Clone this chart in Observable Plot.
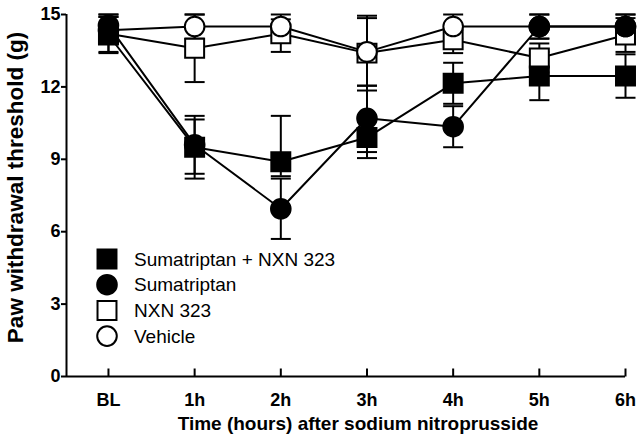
<!DOCTYPE html>
<html><head><meta charset="utf-8">
<script src="https://cdn.jsdelivr.net/npm/d3@7"></script>
<script src="https://cdn.jsdelivr.net/npm/@observablehq/plot@0.6"></script>
<style>
body{margin:0;background:#fff;}
#wrap{position:relative;width:640px;height:448px;font-family:"Liberation Sans",Arial,sans-serif;}
</style></head><body><div id="wrap"></div>
<script>
const times = ["BL","1h","2h","3h","4h","5h","6h"];
const yTicks = [0,3,6,9,12,15];
const seriesNames = ["Sumatriptan + NXN 323","Sumatriptan","NXN 323","Vehicle"];

const sumaNxnMean = [14.15, 9.5, 8.9, 9.9, 12.15, 12.45, 12.45];
const sumaNxnLow  = [13.4, 8.4, 8.3, 9.05, 11.3, 11.45, 11.55];
const sumaNxnHigh = [14.9, 10.65, 10.8, 10.75, 13.0, 13.45, 13.35];

const sumaMean = [14.55, 9.6, 6.95, 10.7, 10.35, 14.5, 14.5];
const sumaLow  = [13.9, 8.2, 5.7, 9.3, 9.5, 14.0, 14.0];
const sumaHigh = [15.0, 10.8, 8.2, 12.05, 11.2, 15.0, 15.0];

const nxnMean = [14.2, 13.6, 14.2, 13.4, 13.95, 13.2, 14.15];
const nxnLow  = [13.45, 12.2, 13.45, 11.85, 13.4, 12.6, 13.45];
const nxnHigh = [14.9, 15.0, 14.8, 14.95, 14.5, 13.8, 14.85];

const vehMean = [14.35, 14.5, 14.5, 13.45, 14.5, 14.5, 14.5];
const vehLow  = [13.8, 14.0, 14.0, 12.05, 14.0, 14.0, 14.0];
const vehHigh = [15.0, 15.0, 15.0, 14.85, 15.0, 15.0, 15.0];

const xLabel = "Time (hours) after sodium nitroprusside";
const yLabel = "Paw withdrawal threshold (g)";

function rows(name, mean, lo, hi) {
  return times.map((t, i) => ({series: name, t: i, mean: mean[i], lo: lo[i], hi: hi[i]}));
}
const sSN = rows(seriesNames[0], sumaNxnMean, sumaNxnLow, sumaNxnHigh);
const sS  = rows(seriesNames[1], sumaMean, sumaLow, sumaHigh);
const sN  = rows(seriesNames[2], nxnMean, nxnLow, nxnHigh);
const sV  = rows(seriesNames[3], vehMean, vehLow, vehHigh);
const all = [...sN, ...sV, ...sSN, ...sS];

const capSym = {draw(ctx) { ctx.moveTo(-10, 0); ctx.lineTo(10, 0); }};
const upTick = {draw(ctx) { ctx.moveTo(0, 0); ctx.lineTo(0, -8); }};
const xIdx = times.map((t, i) => i);
const xDomain = [-0.487, times.length - 1];

const plot = Plot.plot({
  width: 640, height: 448,
  marginLeft: 66, marginRight: 15, marginTop: 14, marginBottom: 72,
  style: {fontFamily: "'Liberation Sans', Arial, sans-serif", color: "#000", background: "#fff"},
  x: {type: "linear", domain: xDomain},
  y: {domain: [0, 15]},
  marks: [
    Plot.axisY({ticks: yTicks, tickSize: 5, tickPadding: 1, fontSize: 18, fontWeight: "bold", strokeWidth: 2, label: null}),
    Plot.axisX({ticks: xIdx, tickFormat: i => times[i], tickSize: 0, tickPadding: 17, fontSize: 18, fontWeight: "bold", label: null}),
    Plot.ruleY([0], {stroke: "#000", strokeWidth: 2}),
    Plot.ruleX([xDomain[0]], {stroke: "#000", strokeWidth: 2}),
    Plot.dot(xIdx, {x: d => d, y: 0, symbol: upTick, stroke: "#000", strokeWidth: 2, fill: "none"}),
    Plot.ruleX(all, {x: "t", y1: "lo", y2: "hi", stroke: "#000", strokeWidth: 2}),
    Plot.dot(all, {x: "t", y: "lo", symbol: capSym, stroke: "#000", strokeWidth: 2, fill: "none"}),
    Plot.dot(all, {x: "t", y: "hi", symbol: capSym, stroke: "#000", strokeWidth: 2, fill: "none"}),
    Plot.line(all, {x: "t", y: "mean", z: "series", stroke: "#000", strokeWidth: 2}),
    Plot.dot(sN, {x: "t", y: "mean", symbol: "square", r: 10.7, fill: "#fff", stroke: "#000", strokeWidth: 2}),
    Plot.dot(sV, {x: "t", y: "mean", symbol: "circle", r: 9.8, fill: "#fff", stroke: "#000", strokeWidth: 2}),
    Plot.dot(sSN, {x: "t", y: "mean", symbol: "square", r: 10.7, fill: "#000", stroke: "#000", strokeWidth: 2}),
    Plot.dot(sS, {x: "t", y: "mean", symbol: "circle", r: 9.8, fill: "#000", stroke: "#000", strokeWidth: 2}),
    Plot.text([xLabel], {frameAnchor: "bottom", dx: 12, dy: 53, fontSize: 19, fontWeight: "bold", fill: "#000"}),
    Plot.text([yLabel], {frameAnchor: "left", textAnchor: "middle", rotate: -90, dx: -51, dy: -8, fontSize: 22.5, fontWeight: "bold", fill: "#000"})
  ]
});
document.getElementById("wrap").appendChild(plot);

// legend inside the plot area
const svg = d3.select(plot);
const legendItems = [
  {name: seriesNames[0], symbol: d3.symbolSquare, fill: "#000"},
  {name: seriesNames[1], symbol: d3.symbolCircle, fill: "#000"},
  {name: seriesNames[2], symbol: d3.symbolSquare, fill: "#fff"},
  {name: seriesNames[3], symbol: d3.symbolCircle, fill: "#fff"}
];
const lg = svg.append("g").attr("transform", "translate(107,259)");
legendItems.forEach((d, i) => {
  const g = lg.append("g").attr("transform", `translate(0,${i * 25.7})`);
  const r = d.symbol === d3.symbolSquare ? 10.7 : 9.8;
  g.append("path").attr("d", d3.symbol(d.symbol, r * r * Math.PI)())
    .attr("fill", d.fill).attr("stroke", "#000").attr("stroke-width", 2);
  g.append("text").attr("x", 27).attr("y", 0).attr("dy", "0.35em")
    .style("font-size", "19px").style("font-family", "'Liberation Sans', Arial, sans-serif")
    .style("text-anchor", "start").attr("fill", "#000").text(d.name);
});
</script>
</body></html>
